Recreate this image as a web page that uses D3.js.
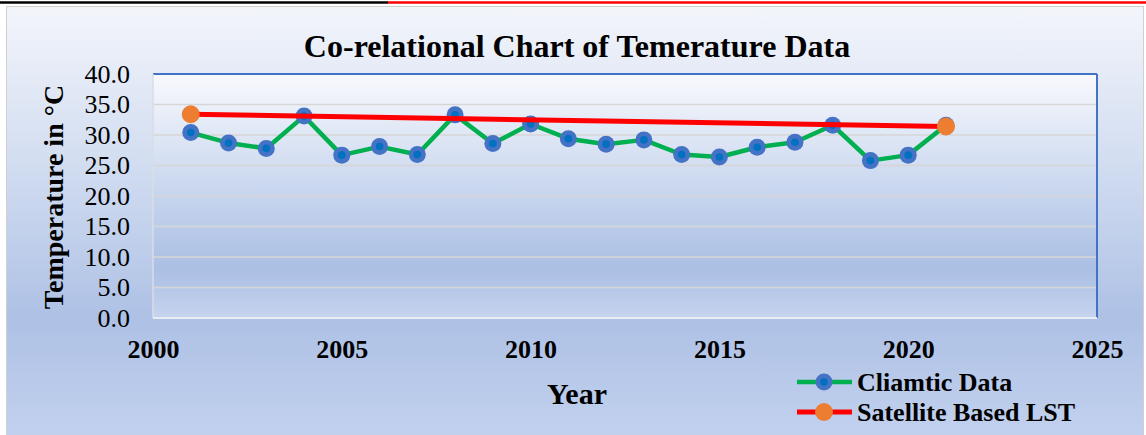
<!DOCTYPE html>
<html>
<head>
<meta charset="utf-8">
<script src="https://cdn.jsdelivr.net/npm/d3@7"></script>
<style>
    body { margin: 0; background: #fff; }
    svg { display: block; font-family: "Liberation Serif", "Times New Roman", serif; }
</style>
</head>
<body>
<svg id="chart" width="1146" height="435"></svg>
<script>
"use strict";

var years = [2001, 2002, 2003, 2004, 2005, 2006, 2007, 2008, 2009, 2010, 2011,
             2012, 2013, 2014, 2015, 2016, 2017, 2018, 2019, 2020, 2021];
var climaticTemps = [30.4, 28.7, 27.8, 33.1, 26.7, 28.1, 26.8, 33.3, 28.6, 31.8, 29.4,
                     28.5, 29.2, 26.8, 26.4, 28.0, 28.8, 31.6, 25.8, 26.7, 31.6];
var satelliteYears = [2001, 2021];
var satelliteTemps = [33.4, 31.4];
var xTicks = [2000, 2005, 2010, 2015, 2020, 2025];
var yTicks = [0, 5, 10, 15, 20, 25, 30, 35, 40];
var seriesNames = ["Cliamtic Data", "Satellite Based LST"];

(() => {
    var svg = d3.select("#chart");
    var defs = svg.append("defs");

    var addGradient = (id, stops) => {
        var g = defs.append("linearGradient").attr("id", id)
            .attr("x1", 0).attr("y1", 0).attr("x2", 0).attr("y2", 1);
        stops.forEach(s => g.append("stop").attr("offset", s[0]).attr("stop-color", s[1]));
    };
    addGradient("bgGrad", [[0, "#f3f5fb"], [0.35, "#d3def1"], [0.72, "#aec1e5"], [1, "#c2d1ee"]]);
    addGradient("plotGrad", [[0, "#f8f9fd"], [0.45, "#cbd8ef"], [0.8, "#abbfe4"], [1, "#c6d4ee"]]);

    // document rules peeking above the chart
    svg.append("line").attr("x1", 0).attr("x2", 388).attr("y1", 2.5).attr("y2", 2.5)
        .attr("stroke", "#000").attr("stroke-width", 2.5);
    svg.append("line").attr("x1", 388).attr("x2", 1146).attr("y1", 2.5).attr("y2", 2.5)
        .attr("stroke", "#ff0000").attr("stroke-width", 2.5);

    // chart area
    svg.append("rect").attr("x", 6.5).attr("y", 6.5).attr("width", 1137).attr("height", 432)
        .attr("fill", "url(#bgGrad)").attr("stroke", "#d0d0d0").attr("stroke-width", 1);

    var pLeft = 153, pRight = 1097, pTop = 74, pBottom = 318;

    var x = d3.scaleLinear().domain([2000, 2025]).range([pLeft, pRight]);
    var y = d3.scaleLinear().domain([0, 40]).range([pBottom, pTop]);

    svg.append("rect").attr("x", pLeft).attr("y", pTop)
        .attr("width", pRight - pLeft).attr("height", pBottom - pTop)
        .attr("fill", "url(#plotGrad)");

    // gridlines
    svg.append("g").selectAll("line").data(yTicks.filter(v => v > 0 && v < 40)).enter().append("line")
        .attr("x1", pLeft).attr("x2", pRight)
        .attr("y1", d => y(d)).attr("y2", d => y(d))
        .attr("stroke", "#d6d6d6").attr("stroke-width", 1.5);

    // plot border: blue top/right, pale left/bottom
    svg.append("line").attr("x1", pLeft).attr("x2", pRight).attr("y1", pTop).attr("y2", pTop)
        .attr("stroke", "#4472c4").attr("stroke-width", 2);
    svg.append("line").attr("x1", pRight).attr("x2", pRight).attr("y1", pTop).attr("y2", pBottom)
        .attr("stroke", "#4472c4").attr("stroke-width", 2);
    svg.append("line").attr("x1", pLeft).attr("x2", pLeft).attr("y1", pTop).attr("y2", pBottom)
        .attr("stroke", "#d9dde6").attr("stroke-width", 1.5);
    svg.append("line").attr("x1", pLeft).attr("x2", pRight).attr("y1", pBottom).attr("y2", pBottom)
        .attr("stroke", "#e8ecf4").attr("stroke-width", 2);

    // axes
    var yAxis = svg.append("g").attr("transform", "translate(" + pLeft + ",0)")
        .call(d3.axisLeft(y).tickValues(yTicks).tickFormat(d3.format(".1f")).tickSize(0).tickPadding(23));
    yAxis.select(".domain").remove();
    yAxis.selectAll("text").attr("font-size", 26).attr("fill", "#000")
        .attr("font-family", "Liberation Serif");

    var xAxis = svg.append("g").attr("transform", "translate(0," + pBottom + ")")
        .call(d3.axisBottom(x).tickValues(xTicks).tickFormat(d3.format("d")).tickSize(0).tickPadding(22));
    xAxis.select(".domain").remove();
    xAxis.selectAll("text").attr("font-size", 26).attr("font-weight", "bold").attr("fill", "#000")
        .attr("font-family", "Liberation Serif");

    // climatic series
    var climData = years.map((yr, i) => ({year: yr, t: climaticTemps[i]}));
    var line = d3.line().x(d => x(d.year)).y(d => y(d.t));

    svg.append("path").datum(climData).attr("d", line)
        .attr("fill", "none").attr("stroke", "#00b050").attr("stroke-width", 4.5)
        .attr("stroke-linejoin", "round");
    svg.append("g").selectAll("circle").data(climData).enter().append("circle")
        .attr("cx", d => x(d.year)).attr("cy", d => y(d.t)).attr("r", 8.5)
        .attr("fill", "#4472c4");
    svg.append("g").selectAll("circle").data(climData).enter().append("circle")
        .attr("cx", d => x(d.year)).attr("cy", d => y(d.t)).attr("r", 3.8)
        .attr("fill", "#0070c0");

    // satellite series
    var satData = satelliteYears.map((yr, i) => ({year: yr, t: satelliteTemps[i]}));
    svg.append("path").datum(satData).attr("d", line)
        .attr("fill", "none").attr("stroke", "#ff0000").attr("stroke-width", 5);
    svg.append("g").selectAll("circle").data(satData).enter().append("circle")
        .attr("cx", d => x(d.year)).attr("cy", d => y(d.t)).attr("r", 9)
        .attr("fill", "#ed7d31");

    // titles
    svg.append("text").attr("x", 577).attr("y", 57).attr("text-anchor", "middle")
        .attr("font-size", 32).attr("font-weight", "bold")
        .text("Co-relational Chart of Temerature Data");
    svg.append("text").attr("transform", "translate(63,197) rotate(-90)").attr("text-anchor", "middle")
        .attr("font-size", 28).attr("font-weight", "bold")
        .text("Temperature in \u00b0C");
    svg.append("text").attr("x", 577).attr("y", 404).attr("text-anchor", "middle")
        .attr("font-size", 30).attr("font-weight", "bold")
        .text("Year");

    // legend
    var legend = svg.append("g").selectAll("g").data(seriesNames).enter().append("g")
        .attr("transform", (d, i) => "translate(797," + (382 + i * 30) + ")");
    legend.append("line").attr("x1", 0).attr("x2", 55).attr("y1", 0).attr("y2", 0)
        .attr("stroke", (d, i) => i === 0 ? "#00b050" : "#ff0000")
        .attr("stroke-width", (d, i) => i === 0 ? 4.5 : 5);
    legend.append("circle").attr("cx", 27).attr("cy", 0).attr("r", (d, i) => i === 0 ? 8.5 : 9)
        .attr("fill", (d, i) => i === 0 ? "#4472c4" : "#ed7d31");
    legend.filter((d, i) => i === 0).append("circle").attr("cx", 27).attr("cy", 0).attr("r", 3.8)
        .attr("fill", "#0070c0");
    legend.append("text").attr("x", 60).attr("y", 0).attr("dy", "0.35em")
        .attr("font-size", 26).attr("font-weight", "bold").text(d => d);
})();
</script>
</body>
</html>
